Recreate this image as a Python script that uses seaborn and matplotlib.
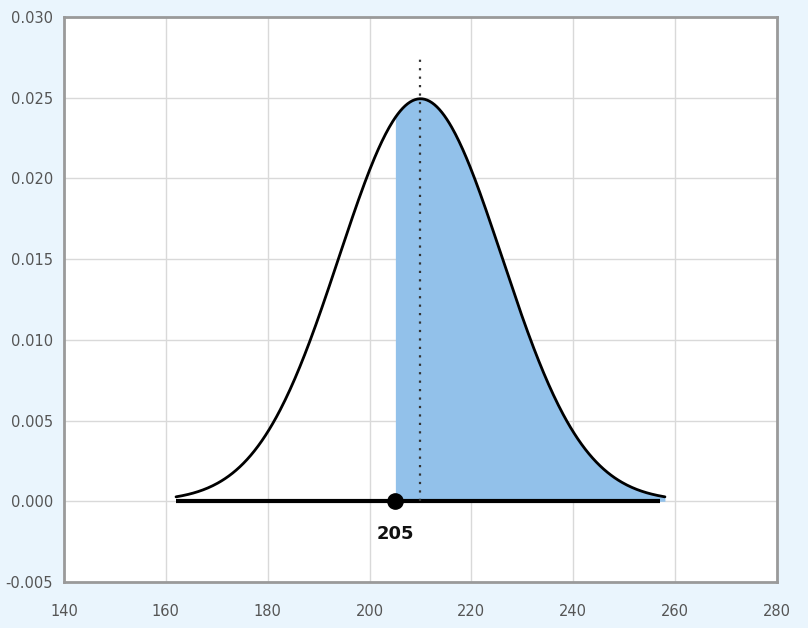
import matplotlib

matplotlib.use("Agg")
import matplotlib.pyplot as plt  # noqa: E402
import numpy as np  # noqa: E402
import pandas as pd  # noqa: E402
import seaborn as sns  # noqa: E402

# distribution: peak 0.025 at 210, tails at ~162 / ~258
MEAN = 210
SD = 16
X_LOW = 162
X_HIGH = 258
CUTOFF = 205
MEAN_LINE_TOP = 0.0275

X_TICKS = [140, 160, 180, 200, 220, 240, 260, 280]
Y_TICKS = [-0.005, 0.000, 0.005, 0.010, 0.015, 0.020, 0.025, 0.030]
Y_TICK_LABELS = ["-0.005", "0.000", "0.005", "0.010", "0.015", "0.020", "0.025", "0.030"]

x = np.linspace(X_LOW, X_HIGH, 400)
pdf = np.exp(-0.5 * ((x - MEAN) / SD) ** 2) / (SD * np.sqrt(2 * np.pi))
df = pd.DataFrame({"x": x, "density": pdf})

sns.set_theme(style="whitegrid")
plt.rcParams["font.family"] = ["DejaVu Sans"]

fig = plt.figure(figsize=(8.08, 6.28), dpi=100)
fig.patch.set_facecolor("#eaf5fd")
ax = fig.add_axes([0.0792, 0.0732, 0.8824, 0.8998])
ax.set_facecolor("white")

# shaded right tail from the cutoff
shade = df[df["x"] >= CUTOFF]
ax.fill_between(shade["x"], 0, shade["density"], color="#92c1ea", linewidth=0, zorder=2)

sns.lineplot(data=df, x="x", y="density", color="black", linewidth=2, ax=ax, zorder=3)

# baseline
ax.plot([X_LOW, X_HIGH - 1], [0, 0], color="black", linewidth=3, solid_capstyle="butt", zorder=4)

# mean marker line
ax.plot([MEAN, MEAN], [0, MEAN_LINE_TOP], color="#333333", linestyle=(0, (1, 2.8)),
        linewidth=1.6, zorder=4)

# cutoff point and label
ax.plot([CUTOFF], [0], marker="o", markersize=11, color="black", zorder=5)
ax.annotate(str(CUTOFF), (CUTOFF, 0), xytext=(0, -17), textcoords="offset points",
            ha="center", va="top", fontsize=13, fontweight="bold", color="#111111")

ax.set_xlim(X_TICKS[0], X_TICKS[-1])
ax.set_ylim(Y_TICKS[0], Y_TICKS[-1])
ax.set_xticks(X_TICKS)
ax.set_yticks(Y_TICKS)
ax.set_yticklabels(Y_TICK_LABELS)
ax.set_xlabel("")
ax.set_ylabel("")
ax.grid(True, color="#d9d9d9", linewidth=1)
ax.set_axisbelow(True)

for side in ["top", "right", "bottom", "left"]:
    ax.spines[side].set_visible(True)
    ax.spines[side].set_color("#9a9a9a")
    ax.spines[side].set_linewidth(2)

ax.tick_params(axis="both", which="both", length=5, width=1, color="#9a9a9a",
               labelcolor="#555555", labelsize=10.5, direction="out")
ax.tick_params(axis="x", pad=11)
ax.tick_params(axis="y", pad=3)

fig.savefig("out.png", dpi=100)
plt.close(fig)
